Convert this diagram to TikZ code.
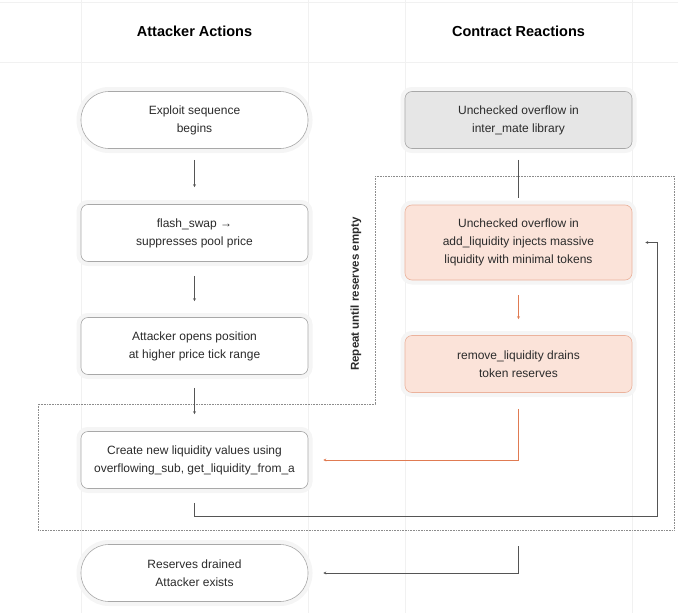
\documentclass[tikz,border=0pt]{standalone}
\usepackage{fontspec}
\setmainfont{Liberation Sans}
\usetikzlibrary{arrows.meta,calc}
\definecolor{txt}{HTML}{2B2B2B}
\definecolor{boxline}{HTML}{A8A8A8}
\definecolor{grayfill}{HTML}{E6E6E6}
\definecolor{orfill}{HTML}{FBE3D9}
\definecolor{orline}{HTML}{EBB29C}
\definecolor{orarrow}{HTML}{E07B52}
\definecolor{darkline}{HTML}{555555}
\definecolor{faint}{HTML}{F1F1F1}
\tikzset{
  box/.style={draw=boxline, fill=white, rounded corners=7pt, minimum width=227pt,
    minimum height=57pt, align=center, text=txt, line width=0.6pt,
    font=\fontsize{12}{18}\selectfont,
    preaction={draw=black!4, line width=9pt}},
  term/.style={box, rounded corners=28pt},
  graybox/.style={box, fill=grayfill},
  orbox/.style={box, fill=orfill, draw=orline},
  arr/.style={draw=darkline, line width=0.7pt, -{Stealth[length=3pt,width=3pt]}},
  orarr/.style={draw=orarrow, line width=0.7pt, -{Stealth[length=3pt,width=3pt]}},
  plainline/.style={draw=darkline, line width=0.7pt},
  header/.style={font=\bfseries\fontsize{14.5}{17}\selectfont, text=black},
  loopbox/.style={draw=black!45, line width=0.6pt, densely dotted}
}
\begin{document}
\begin{tikzpicture}[x=1pt,y=-1pt]
\useasboundingbox (0,0) rectangle (678,613);
% faint background grid
\draw[faint, line width=0.6pt] (0,62) -- (678,62);
\draw[faint, line width=0.6pt] (0,2) -- (678,2);
\foreach \xx in {81,308,405,632} \draw[faint, line width=0.6pt] (\xx,0) -- (\xx,613);
% headers
\node[header] (h1) at (194.5,31) {Attacker Actions};
\node[header] (h2) at (518.5,31) {Contract Reactions};
% loop region
\draw[loopbox] (375,176) -- (674,176) -- (674,530) -- (38,530) -- (38,404) -- (375,404) -- cycle;
\node[rotate=90, font=\bfseries\fontsize{11.5}{13}\selectfont, text=txt] (rep) at (356,294) {Repeat until reserves empty};
% nodes
\node[term] (start) at (194.5,120) {Exploit sequence\\begins};
\node[graybox] (lib) at (518.5,120) {Unchecked overflow in\\inter\_mate library};
\node[box] (swap) at (194.5,233) {flash\_swap →\\suppresses pool price};
\node[box] (open) at (194.5,346) {Attacker opens position\\at higher price tick range};
\node[box] (create) at (194.5,460) {Create new liquidity values using\\overflowing\_sub, get\_liquidity\_from\_a};
\node[term] (end) at (194.5,573) {Reserves drained\\Attacker exists};
\node[orbox, minimum height=75pt] (add) at (518.5,242.5) {Unchecked overflow in\\add\_liquidity injects massive\\liquidity with minimal tokens};
\node[orbox] (remove) at (518.5,364) {remove\_liquidity drains\\token reserves};
% helper coordinates
\coordinate (lb) at (194.5,516);
\coordinate (rb) at (657,516);
\coordinate (exitpt) at (518.5,546);
% connectors
\draw[arr, shorten <=11pt, shorten >=17pt] (start.south) -- (swap.north);
\draw[arr, shorten <=14pt, shorten >=16pt] (swap.south) -- (open.north);
\draw[arr, shorten <=13pt, shorten >=17pt] (open.south) -- (create.north);
\draw[plainline, shorten <=11pt, shorten >=7pt] (lib.south) -- (add.north);
\draw[orarr, shorten <=15pt, shorten >=16pt] (add.south) -- (remove.north);
\draw[orarr, shorten <=16pt, shorten >=15pt] (remove.south) |- (create.east);
\draw[arr, shorten <=14pt, shorten >=13pt] (create.south) -- (lb) -- (rb) |- (add.east);
\draw[arr, shorten >=15pt] (exitpt) |- (end.east);
\end{tikzpicture}
\end{document}
